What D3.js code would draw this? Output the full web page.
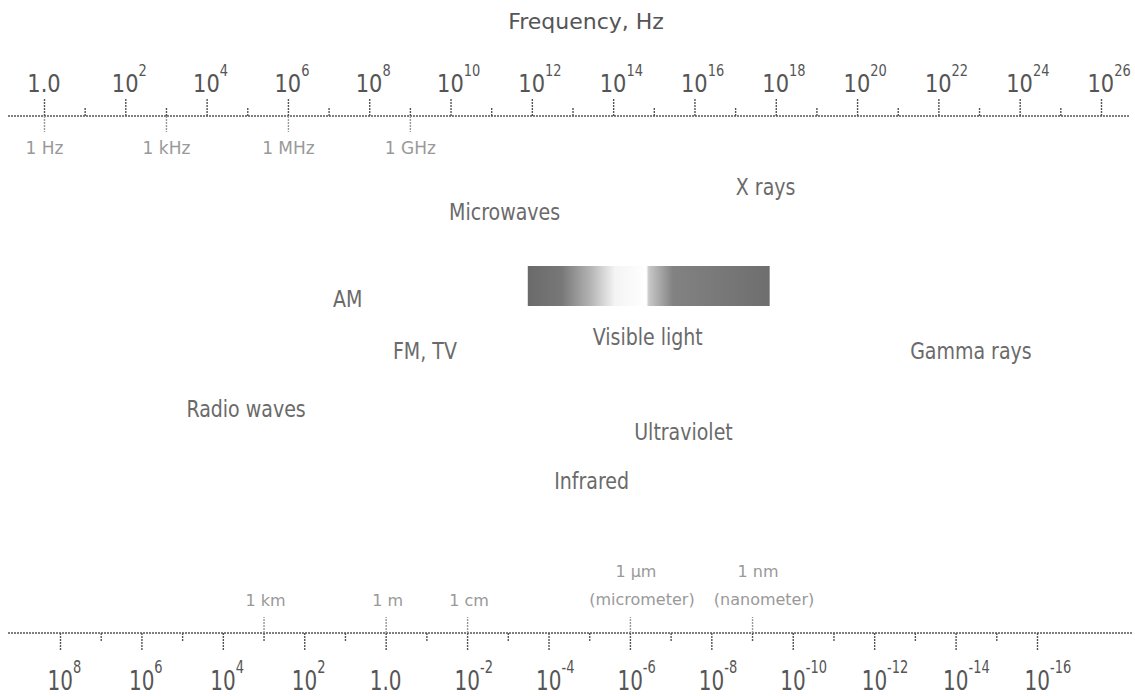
<!DOCTYPE html>
<html>
<head>
<meta charset="utf-8">
<script src="https://cdn.jsdelivr.net/npm/d3@7"></script>
<style>
  body { margin: 0; background: #fff; }
  svg text { font-family: "DejaVu Sans", Verdana, sans-serif; }
</style>
</head>
<body>
<div id="chart"></div>
<script>
// Frequency axis (Hz): major labels every 2 decades, odd decades as minor ticks
const freqMajor = d3.range(0, 27, 2);
const freqMinor = d3.range(1, 27, 2);
const freqUnits = [[1, '1 Hz'], [1e3, '1 kHz'], [1e6, '1 MHz'], [1e9, '1 GHz']];

// Wavelength axis (m)
const waveMajor = d3.range(8, -17, -2);
const waveMinor = d3.range(7, -17, -2);
const waveUnits = [[1e3, '1 km', ''], [1, '1 m', ''], [1e-2, '1 cm', ''],
                   [1e-6, '1 µm', '(micrometer)'], [1e-9, '1 nm', '(nanometer)']];

// Regions, placed by log10 of frequency
const regions = ['X rays', 'Microwaves', 'AM', 'Visible light', 'FM, TV', 'Gamma rays', 'Radio waves', 'Ultraviolet', 'Infrared'];
const regionExp = [17.75, 11.33, 7.47, 14.85, 9.37, 22.8, 4.97, 15.73, 13.47];
const regionRow = [188, 213, 300, 338, 352, 352, 410, 433, 482]; // layout only

// Visible-light colour bar, log10 frequency at its two ends
const visibleBand = [11.9, 17.85];

const width = 1135, height = 696;
const svg = d3.select('#chart').append('svg')
    .attr('width', width)
    .attr('height', height);

const xFreq = d3.scaleLog().domain([1, 1e26]).range([44, 1101]);
const xWave = d3.scaleLog().domain([1e8, 1e-16]).range([60, 1037]);

const topY = 116, botY = 633;
const ink = '#555';
const light = '#999';

// helper: stretched text, like the original's tall narrow type
function stretched(g, x, y, sy) {
    return g.append('g').attr('transform', `translate(${x},${y}) scale(1,${sy})`).append('text');
}

// ---- top (frequency) axis ----
svg.append('line')
    .attr('x1', 8).attr('x2', 1130)
    .attr('y1', topY).attr('y2', topY)
    .attr('stroke', ink).attr('stroke-width', 1.4)
    .attr('stroke-dasharray', '2,1');

function styleAxis(g) {
    g.select('.domain').remove();
    g.selectAll('.tick line').attr('stroke', ink).attr('stroke-width', 1.4).attr('stroke-dasharray', '2,1');
}

svg.append('g').attr('transform', `translate(0,${topY})`)
    .call(d3.axisTop(xFreq).tickValues(freqMajor.map(e => Math.pow(10, e))).tickSize(17).tickFormat(''))
    .call(styleAxis);
svg.append('g').attr('transform', `translate(0,${topY})`)
    .call(d3.axisTop(xFreq).tickValues(freqMinor.map(e => Math.pow(10, e))).tickSize(8).tickFormat(''))
    .call(styleAxis);

const unitAxis = svg.append('g').attr('transform', `translate(0,${topY})`)
    .call(d3.axisBottom(xFreq).tickValues(freqUnits.map(d => d[0])).tickSize(16)
        .tickFormat(v => freqUnits.find(d => d[0] === v)[1]).tickPadding(10))
    .call(styleAxis);
unitAxis.selectAll('.tick line').attr('stroke', light);
unitAxis.selectAll('.tick text')
    .attr('fill', light).attr('font-size', 17)
    .attr('font-family', '"DejaVu Sans", sans-serif');

freqMajor.forEach(e => {
    const x = xFreq(Math.pow(10, e));
    if (e === 0) {
        stretched(svg, x, 92, 1.2).attr('text-anchor', 'middle')
            .attr('font-size', 21).attr('fill', ink).text('1.0');
    } else {
        const t = stretched(svg, x - 13.5, 92, 1.2).attr('font-size', 21).attr('fill', ink);
        t.append('tspan').text('10');
        t.append('tspan').attr('font-size', 13).attr('dy', -13).text(e);
    }
});

svg.append('text')
    .attr('x', 586).attr('y', 29)
    .attr('text-anchor', 'middle')
    .attr('font-size', 22).attr('fill', ink)
    .text('Frequency, Hz');

// ---- bottom (wavelength) axis ----
svg.append('line')
    .attr('x1', 8).attr('x2', 1133)
    .attr('y1', botY).attr('y2', botY)
    .attr('stroke', ink).attr('stroke-width', 1.4)
    .attr('stroke-dasharray', '2,1');

svg.append('g').attr('transform', `translate(0,${botY})`)
    .call(d3.axisBottom(xWave).tickValues(waveMajor.map(e => Math.pow(10, e))).tickSize(18).tickFormat(''))
    .call(styleAxis);
svg.append('g').attr('transform', `translate(0,${botY})`)
    .call(d3.axisBottom(xWave).tickValues(waveMinor.map(e => Math.pow(10, e))).tickSize(8).tickFormat(''))
    .call(styleAxis);
svg.append('g').attr('transform', `translate(0,${botY})`)
    .call(d3.axisTop(xWave).tickValues(waveUnits.map(d => d[0])).tickSize(16).tickFormat(''))
    .call(styleAxis)
    .call(g => g.selectAll('.tick line').attr('stroke', light));

waveUnits.forEach(([v, top, sub]) => {
    const x = xWave(v);
    if (sub) {
        svg.append('text').attr('x', x + 6).attr('y', 577)
            .attr('text-anchor', 'middle').attr('font-size', 16).attr('fill', light).text(top);
        svg.append('text').attr('x', x + 12).attr('y', 605)
            .attr('text-anchor', 'middle').attr('font-size', 16).attr('fill', light).text(sub);
    } else {
        svg.append('text').attr('x', x + 2).attr('y', 606)
            .attr('text-anchor', 'middle').attr('font-size', 16).attr('fill', light).text(top);
    }
});

waveMajor.forEach(e => {
    const x = xWave(Math.pow(10, e));
    if (e === 0) {
        stretched(svg, x, 690, 1.3).attr('text-anchor', 'middle')
            .attr('font-size', 20).attr('fill', ink).text('1.0');
    } else {
        const t = stretched(svg, x - 12.5, 690, 1.3).attr('font-size', 20).attr('fill', ink);
        t.append('tspan').text('10');
        t.append('tspan').attr('font-size', 13).attr('dy', -13).text(e);
    }
});

// ---- visible light bar ----
const grad = svg.append('defs').append('linearGradient').attr('id', 'vis');
[[0, '#6a6a6a'], [0.14, '#787878'], [0.26, '#b4b4b4'], [0.36, '#f4f4f4'],
 [0.49, '#ffffff'], [0.5, '#c8c8c8'], [0.6, '#828282'], [1, '#6e6e6e']]
    .forEach(([o, c]) => grad.append('stop').attr('offset', o).attr('stop-color', c));

svg.append('rect')
    .attr('x', xFreq(Math.pow(10, visibleBand[0])))
    .attr('width', xFreq(Math.pow(10, visibleBand[1])) - xFreq(Math.pow(10, visibleBand[0])))
    .attr('y', 266).attr('height', 40)
    .attr('fill', 'url(#vis)');

// ---- region labels ----
regions.forEach((name, i) => {
    stretched(svg, xFreq(Math.pow(10, regionExp[i])), regionRow[i] + 7, 1.17)
        .attr('text-anchor', 'middle')
        .attr('font-size', 19)
        .attr('fill', '#6a6a6a')
        .text(name);
});
</script>
</body>
</html>
